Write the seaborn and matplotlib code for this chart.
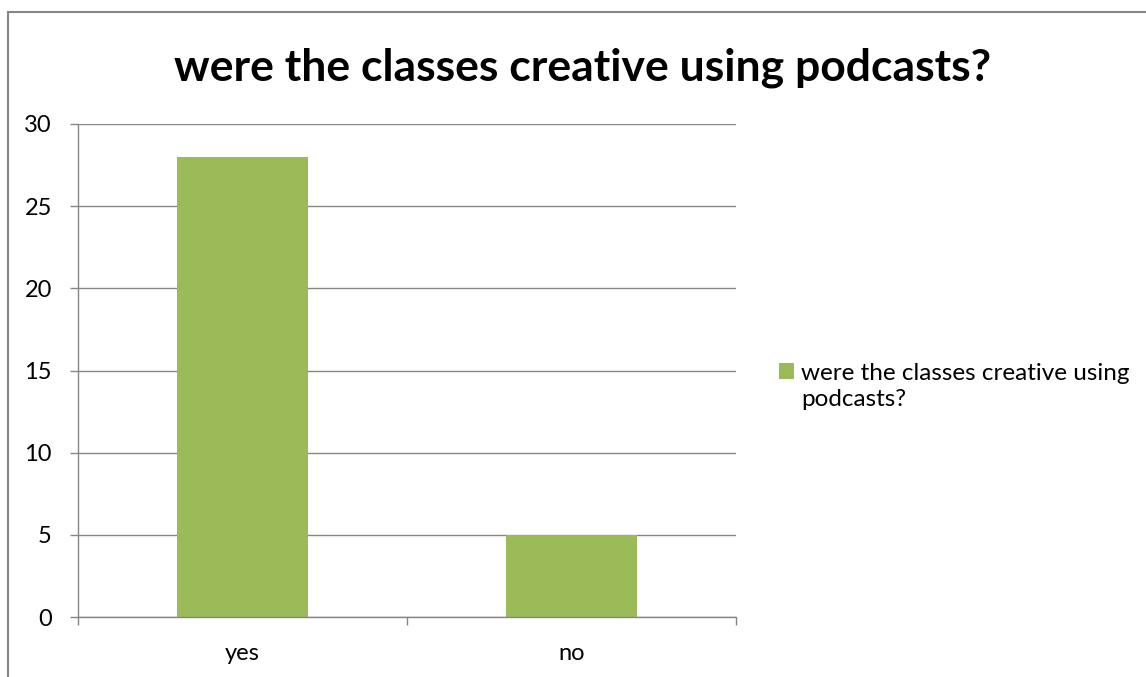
import matplotlib
matplotlib.use("Agg")
import matplotlib.pyplot as plt
import seaborn as sns
import pandas as pd
from matplotlib.patches import Rectangle

categories = ["yes", "no"]
values = [28, 5]
series_name = "were the classes creative using podcasts?"
legend_lines = ["were the classes creative using", "podcasts?"]
title = "were the classes creative using podcasts?"
yticks = [0, 5, 10, 15, 20, 25, 30]

sns.set_theme(style="white")
plt.rcParams['font.family'] = ['Lato', 'DejaVu Sans']
plt.rcParams['text.color'] = 'black'
plt.rcParams['xtick.labelcolor'] = 'black'
plt.rcParams['ytick.labelcolor'] = 'black'

df = pd.DataFrame({"category": categories, "value": values, "series": series_name})

fig = plt.figure(figsize=(11.46, 6.77), dpi=100)
L, R, T, B = 78, 736, 124, 617
ax = fig.add_axes([L/1146, (677-B)/677, (R-L)/1146, (B-T)/677])

sns.barplot(data=df, x="category", y="value", hue="series", ax=ax,
            palette=["#9BBB59"], width=0.4, saturation=1, edgecolor="none")

ax.set_xlim(-0.5, 1.5)
ax.set_ylim(0, 30)
ax.set_yticks(yticks)
ax.set_yticklabels([str(t) for t in yticks])
ax.set_xlabel("")
ax.set_ylabel("")
ax.yaxis.grid(True, color="#868686", linewidth=1)
ax.set_axisbelow(True)
for s in ["top", "right"]:
    ax.spines[s].set_visible(False)
for s in ["left", "bottom"]:
    ax.spines[s].set_color("#868686")
    ax.spines[s].set_linewidth(1)
ax.tick_params(axis="y", which="major", left=True, length=5.8, width=1, color="#868686",
               pad=13, labelsize=17)
ax.set_xticks([0, 1])
ax.set_xticklabels(categories)
ax.set_xticks([-0.5, 0.5, 1.5], minor=True)
ax.tick_params(axis="x", which="major", bottom=False, pad=13, labelsize=17)
ax.tick_params(axis="x", which="minor", bottom=True, length=5.8, width=1, color="#868686")

leg = ax.legend(loc="center left", bbox_to_anchor=((779 - L)/(R - L), (B - 373)/(B - T)),
                frameon=False, fontsize=17.5, handlelength=0.6, handleheight=0.6,
                handletextpad=0.3, borderpad=0, borderaxespad=0)
for t in leg.get_texts():
    t.set_text(legend_lines[0])

fig.canvas.draw()
bb = leg.get_texts()[0].get_window_extent()
fig.text(bb.x0/1146, (677 - 400)/677, legend_lines[1], ha="left", va="center", fontsize=17.5)

fig.text(583/1146, 1 - 68/677, title, ha="center", va="center",
         fontsize=32, fontweight="bold")

fig.patches.append(Rectangle((8/1146, -0.1), 1.2, 1 - 12/677 + 0.1, transform=fig.transFigure,
                             fill=False, edgecolor="#868686", linewidth=1.5))

fig.savefig("out.png", dpi=100)
